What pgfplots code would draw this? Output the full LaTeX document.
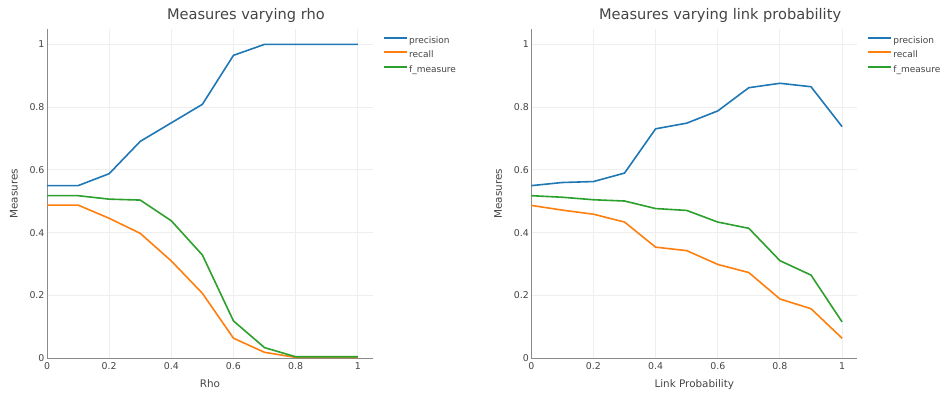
\documentclass[border=0pt]{standalone}
\usepackage{pgfplots}
\pgfplotsset{compat=1.18}
\usepackage{fontspec}
\setmainfont{DejaVu Sans}
\definecolor{cblue}{HTML}{1F77B4}
\definecolor{corange}{HTML}{FF7F0E}
\definecolor{cgreen}{HTML}{2CA02C}
\definecolor{txt}{HTML}{444444}
\definecolor{axln}{HTML}{8A8A8A}
\definecolor{grd}{HTML}{EEEEEE}
\pgfplotstableread{
x prec rec f
0   0.550 0.488 0.518
0.1 0.550 0.488 0.518
0.2 0.588 0.446 0.507
0.3 0.691 0.398 0.504
0.4 0.750 0.310 0.438
0.5 0.809 0.207 0.329
0.6 0.965 0.064 0.119
0.7 1.000 0.019 0.034
0.8 1.000 0.003 0.005
0.9 1.000 0.003 0.005
1.0 1.000 0.003 0.005
}\rhotab
\pgfplotstableread{
x prec rec f
0   0.550 0.487 0.518
0.1 0.560 0.472 0.513
0.2 0.563 0.459 0.505
0.3 0.590 0.434 0.501
0.4 0.731 0.354 0.477
0.5 0.749 0.343 0.471
0.6 0.788 0.299 0.434
0.7 0.862 0.273 0.414
0.8 0.876 0.189 0.311
0.9 0.865 0.158 0.265
1.0 0.738 0.064 0.116
}\linktab
\pgfplotsset{
  myax/.style={
    scale only axis, width=326pt, height=329pt,
    xmin=0, xmax=1.049, ymin=0, ymax=1.048,
    axis lines=left, axis line style={draw=axln, line width=1pt, -},
    xtick={0,0.2,0.4,0.6,0.8,1}, ytick={0,0.2,0.4,0.6,0.8,1},
    xticklabels={0,0.2,0.4,0.6,0.8,1}, yticklabels={0,0.2,0.4,0.6,0.8,1},
    major tick length=0pt,
    grid=major, major grid style={draw=grd, line width=0.9pt},
    tick label style={font=\fontsize{9.4}{11}\selectfont, text=txt},
    xticklabel style={yshift=-1pt},
    yticklabel style={xshift=1pt},
    label style={font=\fontsize{10.4}{12}\selectfont, text=txt},
    title style={font=\fontsize{14.6}{16}\selectfont, text=txt, yshift=-3pt},
    xlabel style={yshift=-3pt},
    ylabel style={yshift=5pt},
    legend style={draw=none, fill=none, font=\fontsize{9}{11}\selectfont, text=txt,
      at={(1.034,0.985)}, anchor=north west, row sep=1pt,
      inner sep=0pt, outer sep=0pt, nodes={text height=7pt, text depth=2.5pt}},
    legend cell align=left,
    legend image code/.code={\path[#1, fill, draw=none] (0pt,2pt) rectangle (23pt,4pt);},
    clip=false,
  }
}
\begin{document}
\begin{tikzpicture}
\path (0pt,0pt) rectangle (946pt,394pt);
\begin{axis}[myax, at={(47pt,35.7pt)}, anchor=south west,
  title={Measures varying rho}, title style={at={(0.61,1)}},
  xlabel={Rho}, ylabel={Measures}]
\addplot[cblue, line width=1.6pt] table[x=x,y=prec]{\rhotab};
\addlegendentry{precision}
\addplot[corange, line width=1.6pt] table[x=x,y=rec]{\rhotab};
\addlegendentry{recall}
\addplot[cgreen, line width=1.6pt] table[x=x,y=f]{\rhotab};
\addlegendentry{f\_measure}
\end{axis}
\begin{axis}[myax, at={(531.3pt,35.7pt)}, anchor=south west,
  title={Measures varying link probability}, title style={at={(0.579,1)}},
  xlabel={Link Probability}, ylabel={Measures}]
\addplot[cblue, line width=1.6pt] table[x=x,y=prec]{\linktab};
\addlegendentry{precision}
\addplot[corange, line width=1.6pt] table[x=x,y=rec]{\linktab};
\addlegendentry{recall}
\addplot[cgreen, line width=1.6pt] table[x=x,y=f]{\linktab};
\addlegendentry{f\_measure}
\end{axis}
\end{tikzpicture}
\end{document}
